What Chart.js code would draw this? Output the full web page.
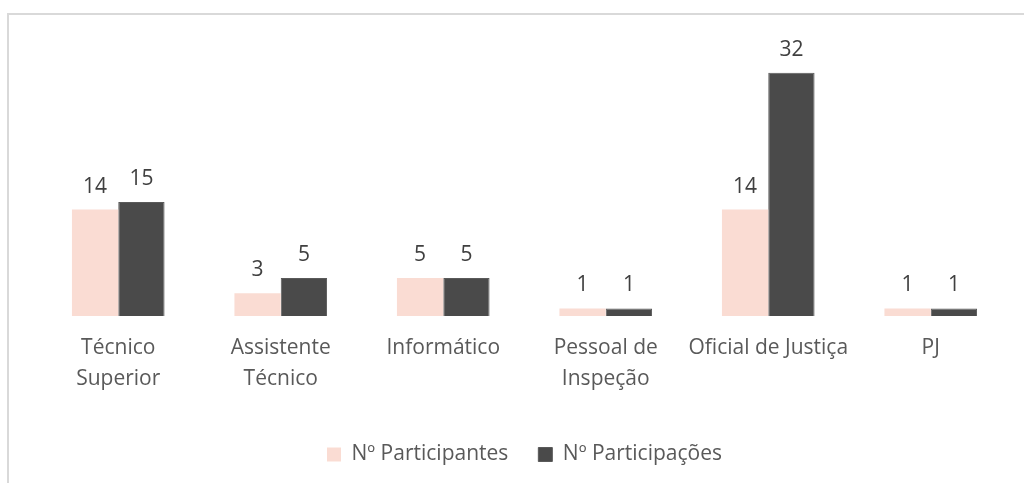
<!DOCTYPE html>
<html>
<head>
<meta charset="utf-8">
<script src="https://cdn.jsdelivr.net/npm/chart.js@4"></script>
<style>
  html, body { margin: 0; padding: 0; background: #ffffff; }
  #wrap { position: relative; width: 1024px; height: 483px; overflow: hidden; }
  #frame {
    position: absolute; left: 7px; top: 13px; width: 1030px; height: 480px;
    border-left: 2px solid #d9d9d9; border-top: 2px solid #d9d9d9;
  }
  canvas { position: absolute; left: 0; top: 0; }
</style>
</head>
<body>
<div id="wrap">
  <div id="frame"></div>
  <canvas id="chart" width="1024" height="483"></canvas>
</div>
<script>
// categories and values
const categories = [
  ['Técnico', 'Superior'],
  ['Assistente', 'Técnico'],
  'Informático',
  ['Pessoal de', 'Inspeção'],
  'Oficial de Justiça',
  'PJ'
];
const participantes = [14, 3, 5, 1, 14, 1];
const participacoes = [15, 5, 5, 1, 32, 1];
const seriesNames = ['Nº Participantes', 'Nº Participações'];

const FONT = '"Open Sans", Calibri, sans-serif';
const FONT_SIZE = 21;

// small plugin: value labels above each bar
const valueLabels = {
  id: 'valueLabels',
  afterDatasetsDraw(chart) {
    const ctx = chart.ctx;
    ctx.save();
    ctx.font = FONT_SIZE + 'px ' + FONT;
    ctx.fillStyle = '#404040';
    ctx.textAlign = 'center';
    ctx.textBaseline = 'middle';
    chart.data.datasets.forEach((ds, i) => {
      const meta = chart.getDatasetMeta(i);
      meta.data.forEach((bar, j) => {
        ctx.fillText(String(ds.data[j]), bar.x, bar.y - 23);
      });
    });
    ctx.restore();
  }
};

new Chart(document.getElementById('chart').getContext('2d'), {
  type: 'bar',
  data: {
    labels: categories,
    datasets: [
      {
        label: seriesNames[0],
        data: participantes,
        backgroundColor: '#fadcd3',
        borderWidth: 0,
        barPercentage: 1.0,
        categoryPercentage: 0.57
      },
      {
        label: seriesNames[1],
        data: participacoes,
        backgroundColor: '#4a4a4a',
        borderColor: '#5a5a5a',
        borderWidth: 1,
        barPercentage: 1.0,
        categoryPercentage: 0.57
      }
    ]
  },
  options: {
    responsive: false,
    animation: false,
    layout: { padding: { left: 37, right: 12, top: 50, bottom: 8 } },
    plugins: {
      legend: {
        position: 'bottom',
        labels: {
          font: { family: FONT, size: FONT_SIZE },
          color: '#595959',
          boxWidth: 14,
          boxHeight: 14,
          padding: 30
        }
      },
      tooltip: { enabled: false }
    },
    scales: {
      y: {
        display: false,
        min: 0,
        max: 35
      },
      x: {
        grid: { display: false, drawTicks: false },
        border: { display: false },
        ticks: {
          font: { family: FONT, size: FONT_SIZE, lineHeight: 1.45 },
          color: '#595959',
          padding: 17,
          maxRotation: 0,
          autoSkip: false
        },
        afterFit(scale) { scale.height = 98; }
      }
    }
  },
  plugins: [valueLabels]
});
</script>
</body>
</html>
